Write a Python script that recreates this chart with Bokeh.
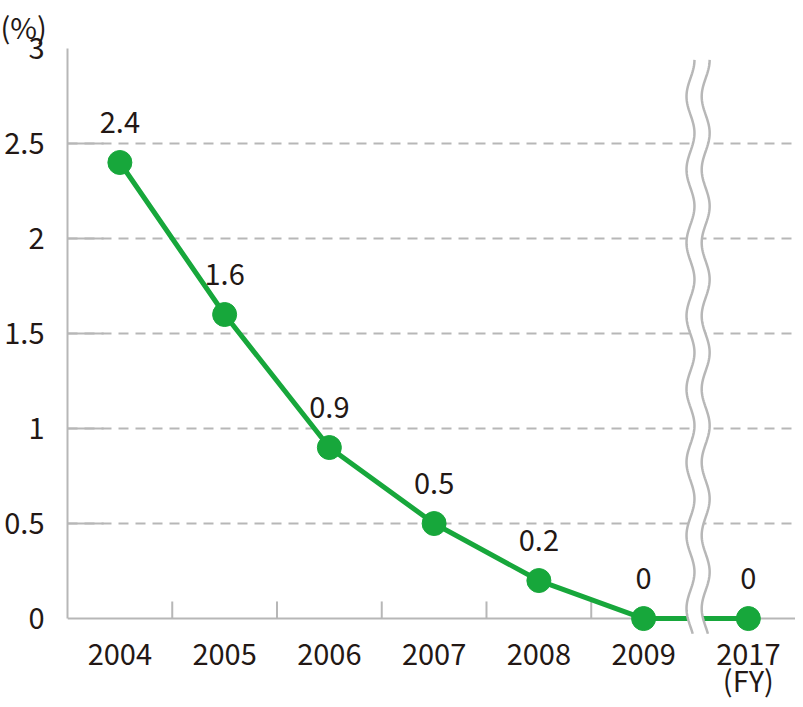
import numpy as np
from bokeh.plotting import figure
from bokeh.models import Range1d, FixedTicker, Span
from bokeh.core.properties import value
from bokeh.embed import file_html
from bokeh.resources import INLINE

# ---- data ----
years = ["2004", "2005", "2006", "2007", "2008", "2009", "2017"]
x_tick_labels = ["2004", "2005", "2006", "2007", "2008", "2009", "2017"]
fy_label = ["(FY)"]
rates = [2.4, 1.6, 0.9, 0.5, 0.2, 0.0, 0.0]
rate_labels = ["2.4", "1.6", "0.9", "0.5", "0.2", "0", "0"]
y_ticks = [0, 0.5, 1, 1.5, 2, 2.5, 3]
y_tick_labels = ["0", "0.5", "1", "1.5", "2", "2.5", "3"]
unit_label = "(%)"

# ---- style ----
FONT = "Noto Sans CJK JP"
FS = "29px"
TEXT = "#231815"
GREEN = "#17a73b"
GRAY = "#b7b7b7"

xs = list(range(len(years)))

p = figure(width=795, height=699,
           x_range=Range1d(-0.5, 6.45),
           y_range=Range1d(-0.426, 3.0),
           output_backend="svg", toolbar_location=None,
           min_border_left=67, min_border_right=0,
           min_border_top=48, min_border_bottom=0)
p.outline_line_color = None
p.background_fill_color = "white"

# title as unit label
p.title.text = unit_label
p.title.align = "left"
p.title.vertical_align = "top"
p.title.offset = -67
p.title.standoff = 0
p.title.text_font = FONT
p.title.text_font_size = FS
p.title.text_font_style = "normal"
p.title.text_color = TEXT
p.title.text_line_height = 0.7

# x axis hidden: category labels drawn as text below the baseline
p.xaxis.visible = False

# y axis
ya = p.yaxis[0]
ya.ticker = FixedTicker(ticks=y_ticks)
ya.major_label_overrides = {t: lab for t, lab in zip(y_ticks, y_tick_labels)}
ya.bounds = (0, 3)
ya.axis_line_color = GRAY
ya.axis_line_width = 2
ya.major_tick_line_color = None
ya.minor_tick_line_color = None
ya.major_label_standoff = 17
ya.major_label_text_font = FONT
ya.major_label_text_font_size = FS
ya.major_label_text_color = TEXT

p.xgrid.visible = False
p.ygrid.ticker = FixedTicker(ticks=y_ticks[1:-1])
p.ygrid.grid_line_color = GRAY
p.ygrid.grid_line_width = 2
p.ygrid.grid_line_dash = "10 7"

# baseline at 0
p.add_layout(Span(location=0, dimension="width", line_color=GRAY,
                  line_width=2, level="underlay"))

# short solid inner ticks on y axis
Y_TICK_LEN = 0.345
gy = y_ticks[1:-1]
p.segment(x0=[-0.5] * len(gy), x1=[-0.5 + Y_TICK_LEN] * len(gy), y0=gy, y1=gy,
          line_color=GRAY, line_width=2)

# category boundary ticks on x axis
X_TICK_H = 0.09
bounds = [x + 0.5 for x in xs]
p.segment(x0=bounds, x1=bounds, y0=[0] * len(bounds), y1=[X_TICK_H] * len(bounds),
          line_color=GRAY, line_width=2)

# category labels
p.text(xs, [0] * len(xs), text=x_tick_labels, text_align="center",
       text_baseline="alphabetic", y_offset=36,
       text_font=value(FONT), text_font_size=FS, text_color=TEXT)
p.text([xs[-1]], [0], text=fy_label, text_align="center",
       text_baseline="alphabetic", y_offset=60,
       text_font=value(FONT), text_font_size=FS, text_color=TEXT)

# data line
p.line(xs, rates, line_color=GREEN, line_width=5)
p.scatter(xs, rates, size=24, fill_color=GREEN, line_color=GREEN)
p.text(xs, rates, text=rate_labels, text_align="center", text_baseline="alphabetic",
       y_offset=-40, text_font=value(FONT), text_font_size=FS, text_color=TEXT)

# axis break between 2009 and 2017
BREAK_X = (xs[-2] + xs[-1]) / 2 + 0.02
GAP = 0.145
AMP = 0.038
PERIOD = 0.385
t = np.linspace(-0.08, 2.94, 300)
wave = AMP * np.sin(2 * np.pi * (t - 2.94) / PERIOD + np.pi / 2)
left = BREAK_X - GAP / 2 + wave
right = BREAK_X + GAP / 2 + wave
p.patch(np.concatenate([left, right[::-1]]), np.concatenate([t, t[::-1]]),
        fill_color="white", line_color=None)
p.multi_line([left, right], [t, t], line_color=GRAY, line_width=2.5)

open("out.html", "w").write(file_html(p, INLINE))
